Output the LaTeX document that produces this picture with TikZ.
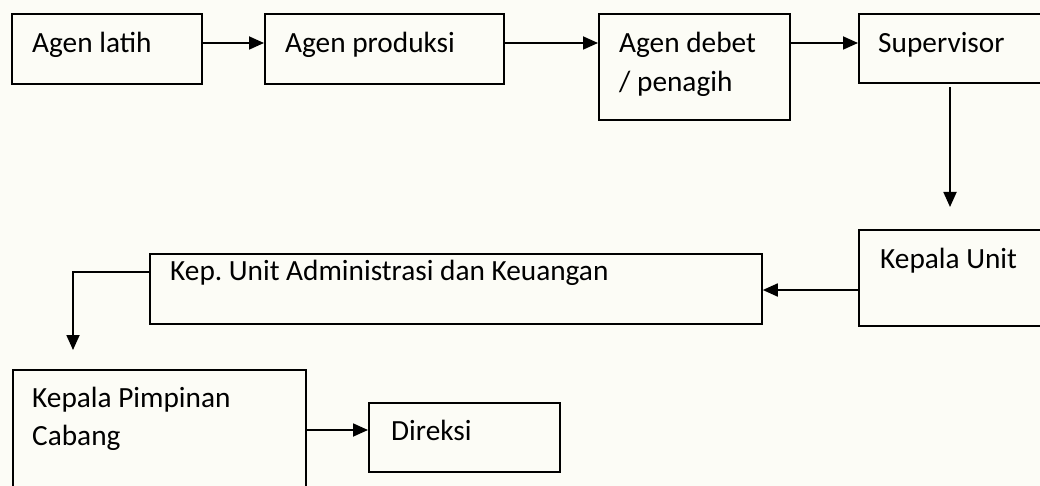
\documentclass[tikz,border=0pt]{standalone}
\usepackage{fontspec}
\setmainfont{Carlito}
\usetikzlibrary{arrows.meta,calc}
\definecolor{bgc}{RGB}{252,252,246}
\tikzset{
  box/.style={draw=black, line width=1.8pt, anchor=north west, inner sep=0pt, fill=none},
  lbl/.style={anchor=base west, inner sep=0pt, font=\fontsize{29.3}{39}\selectfont\frenchspacing, text=black},
  conn/.style={line width=1.8pt, -{Triangle[length=15pt,width=13pt]}},
}
\begin{document}
\begin{tikzpicture}[x=1pt,y=-1pt]
\useasboundingbox (0,0) rectangle (1040,486);
\fill[bgc] (0,0) rectangle (1040,486);
\clip (0,0) rectangle (1040,486);
% boxes
\node[box, minimum width=190, minimum height=70] (la) at (11,13) {};
\node[box, minimum width=239, minimum height=70] (pr) at (264,13) {};
\node[box, minimum width=191, minimum height=106] (db) at (598,13) {};
\node[box, minimum width=210, minimum height=69] (sv) at (858,13) {};
\node[box, minimum width=210, minimum height=96] (ku) at (858,229) {};
\node[box, minimum width=612, minimum height=70] (kep) at (149,253) {};
\node[box, minimum width=293, minimum height=140] (kp) at (12,369) {};
\node[box, minimum width=191, minimum height=69] (dr) at (368,402) {};
% labels
\node[lbl] (tla) at (32,53) {Agen latih};
\node[lbl] (tpr) at (285,53) {Agen produksi};
\node[lbl] (tdb1) at (619,53) {Agen debet};
\node[lbl] (tdb2) at (619,92) {/ penagih};
\node[lbl] (tsv) at (878,53) {Supervisor};
\node[lbl] (tku) at (880,268) {Kepala Unit};
\node[lbl] (tkep) at (170,280) {Kep. Unit Administrasi dan Keuangan};
\node[lbl] (tkp1) at (32,407) {Kepala Pimpinan};
\node[lbl] (tkp2) at (32,445) {Cabang};
\node[lbl] (tdr) at (391,440) {Direksi};
% connector helper coordinates
\coordinate (r1) at (0,43);
\coordinate (svs) at (950,87);
\coordinate (kut) at (950,207);
\coordinate (r2) at (0,290);
\coordinate (r3) at (0,272);
\coordinate (bend) at (73,272);
\coordinate (kpt) at (73,350);
\coordinate (r4) at (0,430);
% connectors
\draw[conn] (la.east |- r1) -- (pr.west |- r1);
\draw[conn] (pr.east |- r1) -- (db.west |- r1);
\draw[conn] (db.east |- r1) -- (sv.west |- r1);
\draw[conn] (svs) -- (kut);
\draw[conn] (ku.west |- r2) -- (kep.east |- r2);
\draw[conn] (kep.west |- r3) -- (bend) -- (kpt);
\draw[conn] (kp.east |- r4) -- (dr.west |- r4);
\end{tikzpicture}
\end{document}
